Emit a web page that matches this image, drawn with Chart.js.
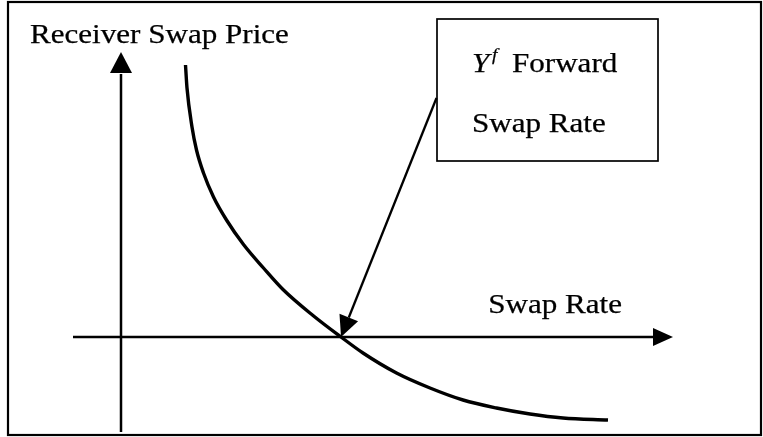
<!DOCTYPE html>
<html>
<head>
<meta charset="utf-8">
<script src="https://cdn.jsdelivr.net/npm/chart.js@4/dist/chart.umd.min.js"></script>
<style>
  html, body { margin: 0; padding: 0; background: #ffffff; }
  canvas { display: block; }
</style>
</head>
<body>
<canvas id="c" width="763" height="437"></canvas>
<script>
// ---- Data (abstract units: origin at the axis crossing) ----
const swapRate   = [1.29, 1.32, 1.42, 1.51, 1.65, 1.85, 2.11, 2.45, 2.85, 3.24, 3.84, 4.40, 4.84, 5.51, 6.18, 6.84, 7.51, 8.18, 8.84, 9.74];
const swapPrice  = [5.44, 4.98, 4.20, 3.74, 3.28, 2.80, 2.34, 1.85, 1.38, 0.95, 0.43, 0.00, -0.32, -0.72, -1.02, -1.26, -1.42, -1.54, -1.62, -1.66];
const forwardRate = [4.40, 0.00];           // Y^f : where the curve crosses the rate axis
const yAxisSpan  = [-1.90, 5.70];           // vertical axis extent
const xAxisSpan  = [-0.96, 11.04];          // horizontal axis extent
const calloutBox = [6.32, 10.74, 3.52, 6.36]; // x0, x1, y0, y1
const calloutFrom = [6.31, 4.78];
const labels = {
  yTitle: 'Receiver Swap Price',
  xTitle: 'Swap Rate',
  boxSym: 'Y',
  boxSup: 'f',
  boxLine1: 'Forward',
  boxLine2: 'Swap Rate'
};

const curvePts = swapRate.map((x, i) => ({ x: x, y: swapPrice[i] }));

function arrowHead(ctx, x0, y0, x1, y1, len, half) {
  const a = Math.atan2(y1 - y0, x1 - x0);
  const bx = x1 - len * Math.cos(a), by = y1 - len * Math.sin(a);
  const nx = -Math.sin(a), ny = Math.cos(a);
  ctx.beginPath();
  ctx.moveTo(x1, y1);
  ctx.lineTo(bx + nx * half, by + ny * half);
  ctx.lineTo(bx - nx * half, by - ny * half);
  ctx.closePath();
  ctx.fill();
  return [bx, by];
}

const SERIF = '"Liberation Serif", "Times New Roman", serif';
const SX = 1.13;
function txt(ctx, s, x, y, size, italic, align) {
  ctx.save();
  ctx.font = (italic ? 'italic ' : '') + size + 'px ' + SERIF;
  ctx.textBaseline = 'alphabetic';
  ctx.textAlign = align || 'left';
  ctx.translate(x, y);
  ctx.scale(SX, 1);
  ctx.lineWidth = 0.25;
  ctx.strokeStyle = '#000';
  ctx.fillText(s, 0, 0);
  ctx.strokeText(s, 0, 0);
  ctx.restore();
}

const diagramPlugin = {
  id: 'diagram',
  beforeDatasetsDraw(chart) {
    const ctx = chart.ctx;
    const xs = chart.scales.x, ys = chart.scales.y;
    const X = v => xs.getPixelForValue(v), Y = v => ys.getPixelForValue(v);
    ctx.save();
    ctx.fillStyle = '#000';
    ctx.strokeStyle = '#000';
    // outer frame
    ctx.lineWidth = 2.2;
    ctx.strokeRect(8, 2, 753, 433);
    // vertical axis with arrow
    ctx.lineWidth = 2.5;
    const vTop = Y(yAxisSpan[1]);
    const vBase = arrowHead(ctx, X(0), Y(yAxisSpan[0]), X(0), vTop, 21, 11);
    ctx.beginPath(); ctx.moveTo(X(0), Y(yAxisSpan[0])); ctx.lineTo(X(0), vBase[1] + 1); ctx.stroke();
    // horizontal axis with arrow
    const hEnd = X(xAxisSpan[1]);
    const hBase = arrowHead(ctx, X(xAxisSpan[0]), Y(0), hEnd, Y(0), 20, 9);
    ctx.beginPath(); ctx.moveTo(X(xAxisSpan[0]), Y(0)); ctx.lineTo(hBase[0] + 1, Y(0)); ctx.stroke();
    // callout box
    ctx.lineWidth = 1.7;
    const bx0 = X(calloutBox[0]), bx1 = X(calloutBox[1]), by0 = Y(calloutBox[3]), by1 = Y(calloutBox[2]);
    ctx.strokeRect(bx0, by0, bx1 - bx0, by1 - by0);
    // pointer arrow
    ctx.lineWidth = 2.3;
    const fx = X(calloutFrom[0]), fy = Y(calloutFrom[1]);
    const tx = X(forwardRate[0]), ty = Y(forwardRate[1]);
    const pb = arrowHead(ctx, fx, fy, tx, ty, 21, 10);
    ctx.beginPath(); ctx.moveTo(fx, fy); ctx.lineTo(pb[0], pb[1]); ctx.stroke();
    // texts
    txt(ctx, labels.yTitle, 30, 43, 27.5, false);
    txt(ctx, labels.xTitle, 622, 313, 27.5, false, 'right');
    txt(ctx, labels.boxSym, 472, 72, 27.5, true);
    txt(ctx, labels.boxSup, 492, 60, 17, true);
    txt(ctx, labels.boxLine1, 512, 72, 27.5, false);
    txt(ctx, labels.boxLine2, 472, 132, 27.5, false);
    ctx.restore();
  }
};

new Chart(document.getElementById('c'), {
  type: 'scatter',
  data: {
    datasets: [{
      data: curvePts,
      showLine: true,
      borderColor: '#000',
      borderWidth: 3.4,
      pointRadius: 0,
      cubicInterpolationMode: 'monotone',
      fill: false
    }]
  },
  options: {
    responsive: false,
    animation: false,
    devicePixelRatio: 1,
    layout: { padding: 0 },
    plugins: { legend: { display: false }, tooltip: { enabled: false } },
    events: [],
    scales: {
      x: { type: 'linear', display: false, min: -2.42, max: 12.84 },
      y: { type: 'linear', display: false, min: -2.0, max: 6.74 }
    }
  },
  plugins: [diagramPlugin]
});
</script>
</body>
</html>
